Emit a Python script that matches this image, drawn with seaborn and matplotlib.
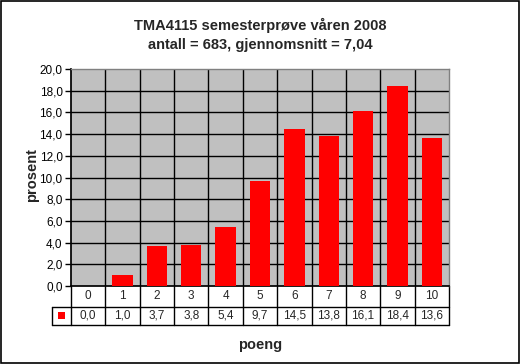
import matplotlib
matplotlib.use("Agg")
import matplotlib.pyplot as plt
import matplotlib.transforms as mtransforms
from matplotlib.patches import Rectangle
import seaborn as sns
import pandas as pd

categories = ["0", "1", "2", "3", "4", "5", "6", "7", "8", "9", "10"]
values = [0.0, 1.0, 3.7, 3.8, 5.4, 9.7, 14.5, 13.8, 16.1, 18.4, 13.6]
value_labels = ["0,0", "1,0", "3,7", "3,8", "5,4", "9,7", "14,5", "13,8", "16,1", "18,4", "13,6"]
yticks = [0, 2, 4, 6, 8, 10, 12, 14, 16, 18, 20]
ytick_labels = ["0,0", "2,0", "4,0", "6,0", "8,0", "10,0", "12,0", "14,0", "16,0", "18,0", "20,0"]
title = "TMA4115 semesterprøve våren 2008\nantall = 683, gjennomsnitt = 7,04"

sns.set_theme(style="white")
plt.rcParams["font.family"] = ["Liberation Sans", "DejaVu Sans"]

df = pd.DataFrame({"poeng": categories, "prosent": values})

fig = plt.figure(figsize=(5.2, 3.64), dpi=100)
fig.patch.set_facecolor("white")
fig.patches.append(Rectangle((0.001, 0.002), 0.997, 0.996, transform=fig.transFigure,
                             fill=False, edgecolor="black", linewidth=1.2))

ax = fig.add_axes([71 / 520, 1 - 286 / 364, 378 / 520, 217 / 364])
ax.set_facecolor("#C0C0C0")
sns.barplot(data=df, x="poeng", y="prosent", color="#FF0000", width=0.59,
            saturation=1, ax=ax, zorder=3)
for p in ax.patches:
    p.set_edgecolor("none")

n = len(categories)
ax.set_xlim(-0.5, n - 0.5)
ax.set_ylim(0, 20)
ax.set_yticks(yticks)
ax.set_yticklabels(ytick_labels, fontsize=8.5)
ax.set_xticks([])
ax.set_xlabel("")
ax.set_ylabel("")
ax.tick_params(axis="y", direction="out", length=4, width=1, color="black",
               left=True, pad=2, labelcolor="black")

# horizontal grid lines
for yv in yticks[1:-1]:
    ax.axhline(yv, color="black", linewidth=1, zorder=1)
# vertical category boundary lines
for k in range(1, n):
    ax.axvline(k - 0.5, color="black", linewidth=1, zorder=1)

for side in ["top", "right"]:
    ax.spines[side].set_color("#808080")
    ax.spines[side].set_linewidth(1)
ax.spines["left"].set_color("black")
ax.spines["bottom"].set_color("black")
for s in ax.spines.values():
    s.set_visible(True)

# data table below the axes
trans = mtransforms.blended_transform_factory(ax.transData, ax.transAxes)
r1 = -20.7 / 217
r2 = -39.0 / 217
lw = 1
key_left = -0.5 - 18.5 / 34.36
ax.plot([key_left, n - 0.5], [r1, r1], color="black", lw=lw, transform=trans, clip_on=False)
ax.plot([key_left, n - 0.5], [r2, r2], color="black", lw=lw, transform=trans, clip_on=False)
ax.plot([key_left, key_left], [r1, r2], color="black", lw=lw, transform=trans, clip_on=False)
for k in range(n + 1):
    ax.plot([k - 0.5, k - 0.5], [0, r2], color="black", lw=lw, transform=trans, clip_on=False)
for i, (c, vl) in enumerate(zip(categories, value_labels)):
    ax.text(i, r1 / 2, c, ha="center", va="center", fontsize=8.5, transform=trans)
    ax.text(i, (r1 + r2) / 2, vl, ha="center", va="center", fontsize=8.5, transform=trans)
# legend key
kx = (key_left + (-0.5)) / 2
ax.add_patch(Rectangle((kx - 0.1, (r1 + r2) / 2 - 0.016), 0.2, 0.032, transform=trans,
                       facecolor="#FF0000", edgecolor="none", clip_on=False))

fig.text(32 / 520, 1 - 175 / 364, "prosent", ha="center", va="center", rotation=90,
         fontsize=10.5, fontweight="bold")
fig.text(260 / 520, 1 - 345 / 364, "poeng", ha="center", va="center",
         fontsize=10.5, fontweight="bold")
fig.text(260 / 520, 1 - 35 / 364, title, ha="center", va="center",
         fontsize=10.5, fontweight="bold", linespacing=1.45)

fig.savefig("out.png", dpi=100)
